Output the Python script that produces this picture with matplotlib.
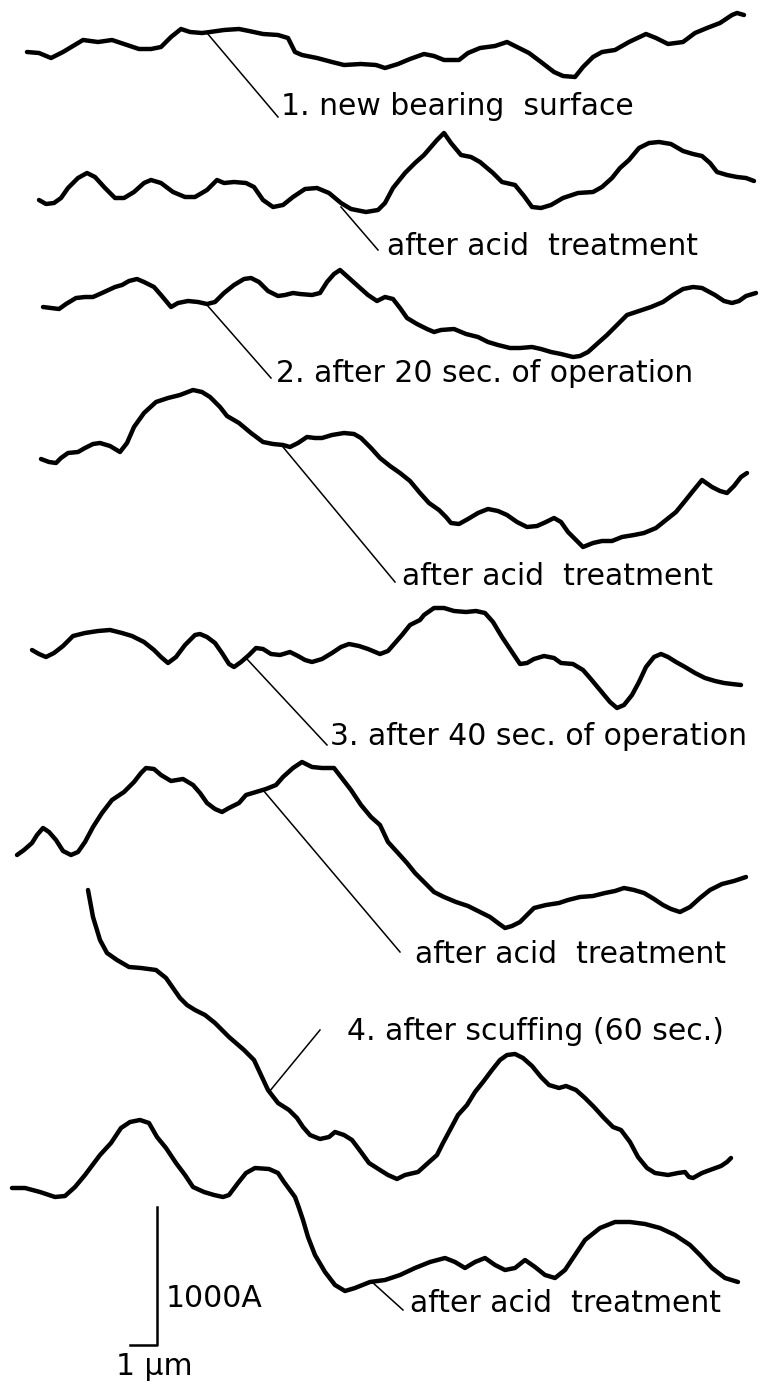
import matplotlib.pyplot as plt

# Surface profiles (talysurf traces), in page pixel units (x right, y down)
new_surface_x = [27, 39, 51, 63, 83, 98, 112, 127, 139, 151, 161, 171, 181, 190, 202, 210, 224, 239, 249, 263,
                 278, 288, 295, 302, 317, 332, 344, 361, 376, 385, 398, 410, 424, 434, 444, 459, 468, 480, 495, 507,
                 517, 529, 541, 554, 563, 575, 583, 593, 602, 615, 629, 646, 656, 668, 683, 695, 707, 720, 732, 737, 744]
new_surface_y = [52, 53, 58, 52, 40, 42, 40, 45, 49, 49, 47, 37, 29, 32, 33, 32, 30, 29, 31, 34,
                 35, 38, 52, 55, 58, 62, 65, 64, 65, 68, 64, 59, 54, 56, 60, 60, 53, 48, 46, 42,
                 47, 53, 62, 72, 76, 77, 67, 57, 52, 50, 42, 34, 38, 44, 42, 33, 28, 23, 15, 13, 15]

new_acid_x = [39, 46, 54, 61, 68, 78, 87, 95, 105, 115, 124, 134, 144, 151, 161, 173, 185, 195, 207, 217,
              224, 234, 246, 254, 263, 273, 283, 293, 305, 317, 329, 341, 351, 366, 378, 385, 393, 405, 415, 424,
              437, 444, 451, 461, 471, 480, 493, 502, 515, 524, 532, 541, 551, 563, 578, 593, 602, 612, 620, 629,
              639, 649, 659, 671, 683, 693, 702, 710, 717, 727, 737, 746, 754]
new_acid_y = [200, 204, 203, 198, 188, 178, 173, 177, 188, 198, 198, 192, 183, 180, 183, 192, 197, 197, 190, 180,
              183, 182, 183, 187, 200, 207, 205, 197, 189, 188, 193, 203, 209, 212, 210, 203, 188, 173, 163, 155,
              140, 133, 143, 155, 157, 162, 173, 182, 185, 196, 207, 208, 205, 198, 193, 192, 187, 178, 168, 160,
              148, 143, 142, 144, 151, 154, 156, 163, 172, 175, 177, 178, 181]

op20_x = [43, 51, 59, 66, 76, 85, 93, 102, 115, 122, 129, 137, 144, 154, 161, 171, 178, 188, 198, 207,
          215, 224, 234, 244, 251, 259, 268, 278, 285, 293, 300, 312, 320, 327, 334, 340, 349, 359, 368, 377,
          385, 393, 400, 407, 417, 427, 434, 441, 454, 466, 478, 488, 498, 510, 520, 532, 541, 551, 561, 573,
          580, 588, 598, 607, 617, 627, 639, 651, 663, 673, 683, 693, 702, 715, 724, 732, 739, 746, 756]
op20_y = [307, 308, 309, 304, 298, 297, 297, 293, 287, 285, 281, 279, 282, 287, 295, 307, 303, 301, 302, 304,
          302, 293, 285, 279, 278, 282, 291, 296, 295, 293, 294, 295, 293, 282, 274, 270, 278, 287, 295, 301,
          297, 299, 308, 318, 324, 329, 332, 330, 329, 334, 337, 342, 345, 348, 348, 347, 349, 352, 354, 357,
          356, 352, 343, 335, 325, 315, 311, 307, 302, 295, 289, 287, 288, 295, 301, 303, 301, 296, 293]

op20_acid_x = [41, 49, 56, 61, 68, 78, 85, 93, 100, 110, 120, 127, 134, 144, 156, 168, 180, 193, 202, 210,
               220, 227, 239, 251, 263, 273, 283, 290, 298, 307, 315, 322, 332, 344, 354, 361, 371, 380, 390, 400,
               410, 420, 429, 439, 446, 451, 459, 468, 478, 488, 498, 507, 517, 527, 537, 546, 554, 561, 568, 576,
               583, 593, 602, 612, 622, 634, 644, 656, 666, 676, 685, 693, 702, 712, 720, 727, 734, 741, 747]
op20_acid_y = [459, 462, 463, 458, 453, 452, 448, 444, 443, 446, 452, 443, 427, 413, 402, 398, 395, 390, 392, 397,
               407, 416, 423, 433, 442, 444, 445, 447, 443, 437, 438, 438, 435, 433, 434, 438, 448, 458, 466, 473,
               481, 493, 503, 510, 517, 523, 524, 519, 513, 509, 511, 515, 522, 527, 526, 522, 518, 522, 532, 540,
               547, 543, 541, 541, 537, 535, 533, 528, 520, 512, 501, 491, 480, 487, 491, 493, 486, 477, 473]

op40_x = [32, 39, 46, 54, 63, 73, 85, 98, 110, 122, 132, 144, 154, 161, 168, 176, 185, 195, 200, 207,
          215, 222, 229, 234, 241, 249, 256, 263, 271, 280, 290, 298, 305, 312, 322, 332, 341, 349, 359, 368,
          380, 388, 395, 402, 410, 420, 424, 434, 444, 454, 466, 476, 485, 493, 502, 512, 520, 527, 534, 544,
          554, 561, 573, 583, 590, 600, 610, 617, 624, 632, 639, 646, 654, 661, 668, 676, 685, 695, 705, 715,
          724, 732, 741]
op40_y = [650, 654, 657, 653, 646, 636, 633, 631, 630, 633, 636, 642, 650, 657, 663, 657, 645, 635, 634, 637,
          643, 653, 664, 667, 662, 655, 648, 649, 654, 655, 652, 656, 660, 662, 659, 653, 647, 644, 646, 649,
          654, 651, 643, 635, 625, 620, 615, 608, 608, 611, 612, 611, 613, 622, 637, 652, 664, 663, 659, 656,
          658, 663, 664, 670, 678, 690, 702, 708, 705, 695, 682, 667, 657, 654, 657, 662, 667, 673, 678, 681,
          683, 684, 685]

op40_acid_x = [17, 24, 32, 37, 43, 49, 56, 63, 71, 78, 85, 93, 102, 112, 124, 134, 141, 146, 154, 161,
               171, 183, 193, 200, 207, 215, 222, 229, 239, 246, 256, 266, 276, 283, 293, 302, 312, 322, 334, 341,
               351, 361, 371, 380, 388, 398, 407, 415, 424, 434, 444, 456, 468, 480, 490, 498, 505, 512, 520, 527,
               534, 546, 559, 568, 580, 593, 605, 615, 624, 634, 644, 654, 663, 671, 680, 690, 700, 710, 722, 734, 746]
op40_acid_y = [855, 850, 843, 835, 828, 832, 840, 851, 855, 852, 842, 827, 813, 800, 792, 782, 773, 768, 769, 775,
               781, 779, 785, 793, 803, 809, 812, 808, 803, 795, 792, 789, 785, 777, 768, 762, 767, 768, 768, 777,
               790, 805, 817, 825, 842, 853, 863, 873, 882, 892, 897, 902, 906, 912, 917, 923, 928, 926, 922, 915,
               908, 905, 903, 900, 897, 896, 893, 891, 888, 890, 893, 899, 905, 909, 912, 907, 898, 890, 884, 881, 877]

scuffed_x = [88, 93, 100, 107, 117, 129, 141, 156, 166, 173, 180, 187, 195, 205, 215, 229, 244, 254, 261, 268,
             278, 289, 297, 303, 310, 320, 329, 335, 344, 352, 361, 369, 380, 388, 397, 405, 418, 428, 437, 443,
             450, 458, 467, 475, 483, 492, 500, 507, 515, 523, 532, 541, 549, 559, 566, 576, 585, 594, 604, 613,
             621, 630, 638, 647, 655, 668, 678, 685, 689, 693, 702, 710, 721, 727, 731]
scuffed_y = [890, 917, 940, 953, 960, 967, 968, 970, 978, 988, 998, 1005, 1010, 1015, 1023, 1037, 1050, 1060, 1075, 1090,
             1103, 1110, 1118, 1127, 1135, 1139, 1137, 1132, 1135, 1140, 1152, 1163, 1170, 1175, 1179, 1175, 1172, 1163, 1155, 1143,
             1130, 1115, 1105, 1092, 1082, 1070, 1060, 1055, 1054, 1058, 1066, 1077, 1085, 1088, 1086, 1090, 1098, 1107, 1118, 1127,
             1130, 1142, 1157, 1168, 1173, 1175, 1173, 1172, 1177, 1178, 1173, 1170, 1166, 1162, 1158]

scuffed_acid_x = [12, 25, 40, 55, 65, 75, 85, 100, 111, 121, 130, 140, 149, 157, 166, 176, 185, 193, 204, 214,
                  223, 229, 238, 246, 255, 269, 278, 284, 295, 299, 303, 308, 315, 325, 335, 345, 355, 370, 385, 400,
                  415, 430, 445, 455, 465, 475, 485, 495, 505, 515, 525, 535, 545, 555, 565, 575, 585, 600, 615, 630,
                  645, 660, 675, 690, 700, 712, 725, 738]
scuffed_acid_y = [1188, 1188, 1192, 1197, 1196, 1187, 1175, 1155, 1143, 1128, 1122, 1120, 1123, 1137, 1148, 1163, 1175, 1187, 1192, 1195,
                  1197, 1195, 1183, 1173, 1168, 1169, 1173, 1182, 1197, 1208, 1220, 1237, 1255, 1272, 1285, 1291, 1288, 1282, 1280, 1275,
                  1268, 1262, 1258, 1262, 1268, 1262, 1258, 1265, 1270, 1268, 1260, 1267, 1275, 1278, 1270, 1255, 1240, 1228, 1222, 1222,
                  1224, 1228, 1235, 1245, 1255, 1268, 1278, 1282]

profiles_x = [new_surface_x, new_acid_x, op20_x, op20_acid_x, op40_x, op40_acid_x, scuffed_x, scuffed_acid_x]
profiles_y = [new_surface_y, new_acid_y, op20_y, op20_acid_y, op40_y, op40_acid_y, scuffed_y, scuffed_acid_y]

# Captions with their anchor (left, baseline) and leader line ends
captions = ['1. new bearing  surface', 'after acid  treatment', '2. after 20 sec. of operation',
            'after acid  treatment', '3. after 40 sec. of operation', 'after acid  treatment',
            '4. after scuffing (60 sec.)', 'after acid  treatment']
caption_x = [281, 387, 276, 402, 330, 415, 347, 410]
caption_y = [115, 255, 382, 585, 745, 963, 1040, 1312]
leader_start = [(207, 33), (341, 207), (207, 305), (283, 447), (246, 658), (263, 790), (269, 1092), (372, 1282)]
leader_end = [(278, 117), (378, 250), (271, 378), (395, 582), (327, 745), (400, 952), (320, 1030), (403, 1310)]

# Scale bar: 1000 A vertical, 1 um horizontal
scale_bar_x = [130, 157, 157]
scale_bar_y = [1345, 1345, 1207]


fig = plt.figure(figsize=(7.65, 13.89), dpi=100)
ax = fig.add_axes([0, 0, 1, 1])
ax.set_xlim(0, 765)
ax.set_ylim(1389, 0)
ax.axis('off')

font = ['DejaVu Sans']

for xs, ys in zip(profiles_x, profiles_y):
    ax.plot(xs, ys, color='black', linewidth=3.2, solid_capstyle='round', solid_joinstyle='round')

for (x0, y0), (x1, y1) in zip(leader_start, leader_end):
    ax.plot([x0, x1], [y0, y1], color='black', linewidth=1.1)

for text, x, y in zip(captions, caption_x, caption_y):
    ax.text(x, y, text, fontsize=21.5, family=font, ha='left', va='baseline')

ax.plot(scale_bar_x, scale_bar_y, color='black', linewidth=1.8)
ax.text(166, 1307, '1000A', fontsize=21.5, family=font, ha='left', va='baseline')
ax.text(116, 1375, '1 μm', fontsize=21.5, family=font, ha='left', va='baseline')

plt.savefig('out.png', dpi=100, facecolor='white')
plt.close()
